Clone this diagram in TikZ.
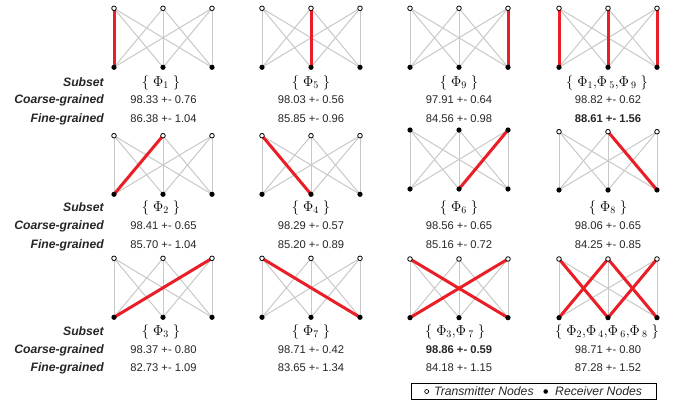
\documentclass[tikz,border=0pt]{standalone}
\usepackage[no-math]{fontspec}
\setmainfont{Liberation Sans}
\pgfdeclarelayer{bg}
\pgfsetlayers{bg,main}
\definecolor{edgegray}{RGB}{200,200,200}
\definecolor{edgered}{RGB}{234,30,38}
\definecolor{txt}{RGB}{38,38,38}
\tikzset{
 tx/.style={circle,draw=black,fill=white,line width=0.8pt,inner sep=0pt,minimum size=4.6pt},
 rx/.style={circle,fill=black,inner sep=0pt,minimum size=5.2pt},
 grayedge/.style={draw=edgegray,line width=1pt},
 rededge/.style={draw=edgered,line width=3pt},
 rowlab/.style={anchor=base east,inner sep=0pt,font=\fontsize{12.2}{14}\selectfont\bfseries\itshape,text=txt},
 num/.style={anchor=base,inner sep=0pt,font=\fontsize{11.2}{13}\selectfont,text=txt},
 setlab/.style={anchor=base,inner sep=0pt,font=\fontsize{14.4}{16}\selectfont},
 legtext/.style={anchor=base west,inner sep=0pt,font=\fontsize{12.2}{14}\selectfont\itshape,text=txt},
 legbox/.style={draw=black,line width=0.8pt},
}
\newcommand{\drawpanel}[6]{%
  \foreach \i in {1,2,3}{%
    \node[#6] (#1t\i) at ({#2+(\i-2)*49},#3) {};
    \node[rx] (#1b\i) at ({#2+(\i-2)*49},#4) {};
  }%
  \begin{pgfonlayer}{bg}
  \foreach \i in {1,2,3}{\foreach \j in {1,2,3}{\draw[grayedge] (#1t\i.center) -- (#1b\j.center);}}
  \foreach \i/\j in {#5}{\draw[rededge] (#1t\i.center) -- (#1b\j.center);}
  \end{pgfonlayer}
}
\newcommand{\phiset}[1]{$\{\mkern5mu #1\mkern5mu\}$}
\begin{document}
\begin{tikzpicture}[x=1pt,y=-1pt]
\useasboundingbox (0,0) rectangle (681,400);
% row 1
\drawpanel{A1}{163}{8.3}{67.3}{1/1}{tx}
\drawpanel{A2}{311}{8.3}{67.3}{2/2}{tx}
\drawpanel{A3}{459}{8.3}{67.3}{3/3}{tx}
\drawpanel{A4}{608}{8.3}{67.3}{1/1,2/2,3/3}{tx}
\node[rowlab] (A-s) at (104,86) {Subset};
\node[rowlab] (A-c) at (104,103.3) {Coarse-grained};
\node[rowlab] (A-f) at (104,122.3) {Fine-grained};
\node[setlab] (A1s) at (161,86) {\phiset{\Phi_1}};
\node[setlab] (A2s) at (311,86) {\phiset{\Phi_5}};
\node[setlab] (A3s) at (459,86) {\phiset{\Phi_9}};
\node[setlab] (A4s) at (607,86) {\phiset{\Phi_1{,}\Phi_{\mkern4mu 5}{,}\Phi_{\mkern4mu 9}}};
\node[num] (A1c) at (163.5,103.3) {98.33 +- 0.76};
\node[num] (A2c) at (311,103.3) {98.03 +- 0.56};
\node[num] (A3c) at (459,103.3) {97.91 +- 0.64};
\node[num] (A4c) at (608,103.3) {98.82 +- 0.62};
\node[num] (A1f) at (163.5,122.3) {86.38 +- 1.04};
\node[num] (A2f) at (311,122.3) {85.85 +- 0.96};
\node[num] (A3f) at (459,122.3) {84.56 +- 0.98};
\node[num] (A4f) at (608,122.3) {\bfseries 88.61 +- 1.56};
% row 2
\drawpanel{B1}{163}{135.7}{194.3}{2/1}{tx}
\drawpanel{B2}{311}{135.7}{194.3}{1/2}{tx}
\drawpanel{B3}{459}{130}{189}{3/2}{rx}
\drawpanel{B4}{608}{131.7}{190}{2/3}{tx}
\node[rowlab] (B-s) at (104,211.7) {Subset};
\node[rowlab] (B-c) at (104,229.3) {Coarse-grained};
\node[rowlab] (B-f) at (104,248.3) {Fine-grained};
\node[setlab] (B1s) at (161,211.7) {\phiset{\Phi_2}};
\node[setlab] (B2s) at (311,211.7) {\phiset{\Phi_4}};
\node[setlab] (B3s) at (459,211) {\phiset{\Phi_6}};
\node[setlab] (B4s) at (608,211) {\phiset{\Phi_8}};
\node[num] (B1c) at (163.5,229.3) {98.41 +- 0.65};
\node[num] (B2c) at (311,229.3) {98.29 +- 0.57};
\node[num] (B3c) at (459,229.3) {98.56 +- 0.65};
\node[num] (B4c) at (608,229.3) {98.06 +- 0.65};
\node[num] (B1f) at (163.5,248.3) {85.70 +- 1.04};
\node[num] (B2f) at (311,248.3) {85.20 +- 0.89};
\node[num] (B3f) at (459,248.3) {85.16 +- 0.72};
\node[num] (B4f) at (608,248.3) {84.25 +- 0.85};
% row 3
\drawpanel{C1}{163}{258.3}{317.3}{3/1}{tx}
\drawpanel{C2}{311}{258.3}{317.3}{1/3}{tx}
\drawpanel{C3}{459}{259}{317.7}{1/3,3/1}{tx}
\drawpanel{C4}{608}{259}{317.7}{2/1,1/2,3/2,2/3}{tx}
\node[rowlab] (C-s) at (104,335) {Subset};
\node[rowlab] (C-c) at (104,353.3) {Coarse-grained};
\node[rowlab] (C-f) at (104,371.7) {Fine-grained};
\node[setlab] (C1s) at (161,335) {\phiset{\Phi_3}};
\node[setlab] (C2s) at (311,335) {\phiset{\Phi_7}};
\node[setlab] (C3s) at (455,335) {\phiset{\Phi_3{,}\Phi_{\mkern4mu 7}}};
\node[setlab] (C4s) at (607,335) {\phiset{\Phi_2{,}\Phi_{\mkern4mu 4}{,}\Phi_{\mkern4mu 6}{,}\Phi_{\mkern4mu 8}}};
\node[num] (C1c) at (163.5,353.3) {98.37 +- 0.80};
\node[num] (C2c) at (311,353.3) {98.71 +- 0.42};
\node[num] (C3c) at (459,353.3) {\bfseries 98.86 +- 0.59};
\node[num] (C4c) at (608,353.3) {98.71 +- 0.80};
\node[num] (C1f) at (163.5,371.7) {82.73 +- 1.09};
\node[num] (C2f) at (311,371.7) {83.65 +- 1.34};
\node[num] (C3f) at (459,371.7) {84.18 +- 1.15};
\node[num] (C4f) at (608,371.7) {87.28 +- 1.52};
% legend
\draw[legbox] (411.7,383.3) rectangle (656.7,399.3);
\node[tx,minimum size=4pt,line width=0.7pt] (Ltx) at (426.7,391.5) {};
\node[legtext] (Ltxt) at (434,395.7) {Transmitter Nodes};
\node[rx,minimum size=4.6pt] (Lrx) at (545.7,391.5) {};
\node[legtext] (Lrxt) at (555,395.7) {Receiver Nodes};
\end{tikzpicture}
\end{document}
